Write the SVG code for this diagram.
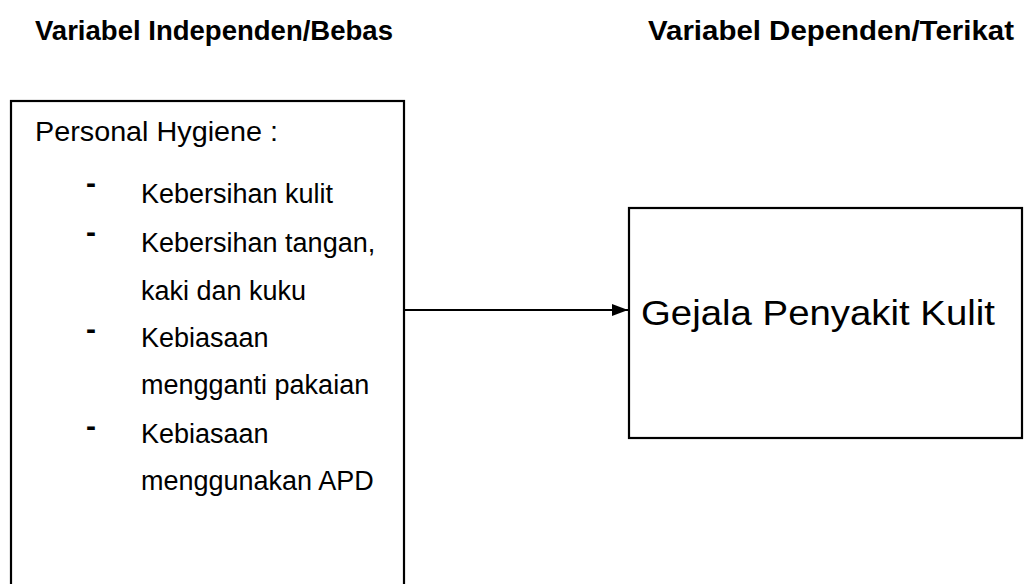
<svg xmlns="http://www.w3.org/2000/svg" width="1024" height="584" viewBox="0 0 1024 584">
<defs>
<style>
.hd{font-family:"Liberation Sans",Arial,sans-serif;font-weight:bold;font-size:27px;fill:#000}
.tx{font-family:"Liberation Sans",Arial,sans-serif;font-size:27px;fill:#000}
.dash{font-family:"Liberation Sans",Arial,sans-serif;font-size:30px;font-weight:bold;fill:#000}
.big{font-family:"Liberation Sans",Arial,sans-serif;font-size:35px;fill:#000}
.box{fill:#fff;stroke:#000;stroke-width:2.2}
.conn{stroke:#000;stroke-width:2;fill:none}
</style>
<marker id="arr" viewBox="0 0 16 12" refX="16" refY="6" markerWidth="16" markerHeight="12" markerUnits="userSpaceOnUse" orient="auto">
<path d="M0,0 L16,6 L0,12 z" fill="#000"/>
</marker>
</defs>
<rect width="1024" height="584" fill="#fff"/>
<g id="headers">
<text class="hd" x="35" y="40" textLength="358" lengthAdjust="spacingAndGlyphs">Variabel Independen/Bebas</text>
<text class="hd" x="648" y="40" textLength="366" lengthAdjust="spacingAndGlyphs">Variabel Dependen/Terikat</text>
</g>
<g id="node-independen">
<rect class="box" x="11" y="101" width="393" height="500"/>
<text class="tx" x="35" y="141" textLength="243" lengthAdjust="spacingAndGlyphs">Personal Hygiene :</text>
<text class="dash" x="86" y="193">-</text>
<text class="tx" x="141" y="203">Kebersihan kulit</text>
<text class="dash" x="86" y="242">-</text>
<text class="tx" x="141" y="252">Kebersihan tangan,</text>
<text class="tx" x="141" y="300">kaki dan kuku</text>
<text class="dash" x="86" y="339">-</text>
<text class="tx" x="141" y="347">Kebiasaan</text>
<text class="tx" x="141" y="394">mengganti pakaian</text>
<text class="dash" x="86" y="436">-</text>
<text class="tx" x="141" y="443">Kebiasaan</text>
<text class="tx" x="141" y="490">menggunakan APD</text>
</g>
<g id="node-dependen">
<rect class="box" x="629" y="208" width="393" height="230"/>
<text class="big" x="641" y="325" textLength="354" lengthAdjust="spacingAndGlyphs">Gejala Penyakit Kulit</text>
</g>
<g id="connectors">
<line class="conn" x1="404" y1="310" x2="628" y2="310" marker-end="url(#arr)"/>
</g>
</svg>
